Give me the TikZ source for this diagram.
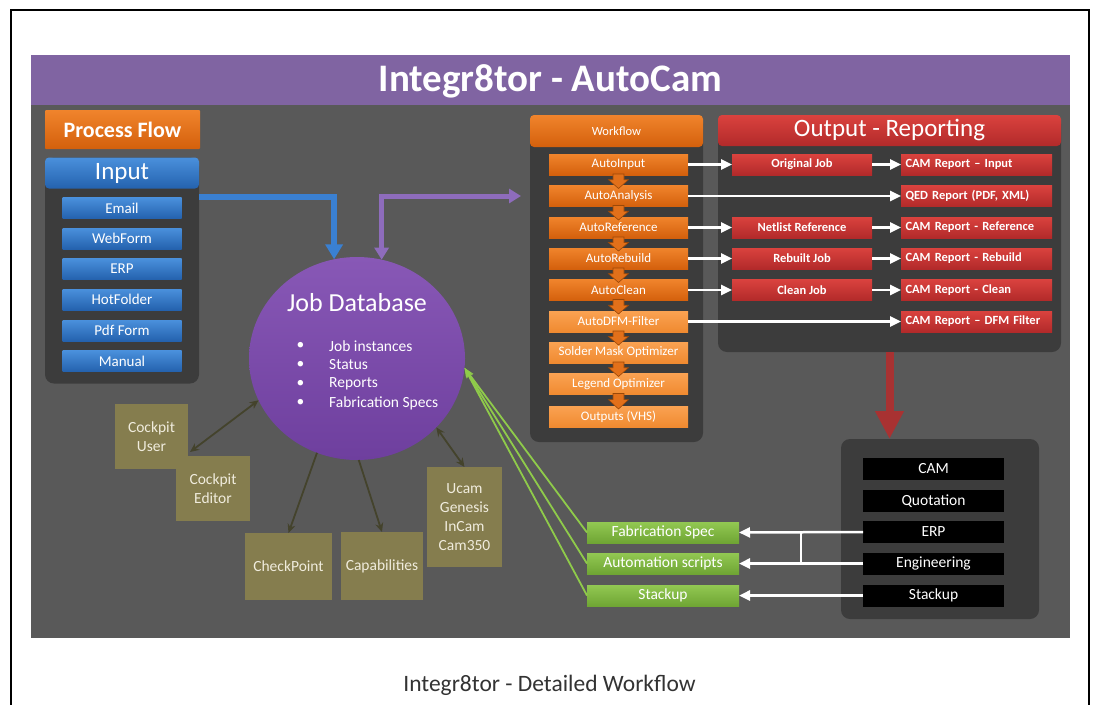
\documentclass[tikz,border=0pt]{standalone}
\usepackage{fontspec}
\setmainfont{Carlito}
\usetikzlibrary{arrows.meta,shapes.geometric,calc}
\newcommand{\fsz}[2]{\fontsize{#1}{#2}\selectfont}
\definecolor{bgc}{HTML}{595959}
\definecolor{panelc}{HTML}{3C3C3C}
\definecolor{purpband}{HTML}{8064A2}
\definecolor{bluetop}{HTML}{4A90DC}
\definecolor{bluebot}{HTML}{2462AE}
\definecolor{orgtop}{HTML}{F0842C}
\definecolor{orgbot}{HTML}{D4600C}
\definecolor{lorgtop}{HTML}{FAA252}
\definecolor{lorgbot}{HTML}{F08A30}
\definecolor{redtop}{HTML}{DA423E}
\definecolor{redbot}{HTML}{B22A2A}
\definecolor{grntop}{HTML}{92C852}
\definecolor{grnbot}{HTML}{6FA534}
\definecolor{olivec}{HTML}{857D4E}
\definecolor{olivetext}{HTML}{F0ECDD}
\definecolor{connc}{HTML}{44432C}
\definecolor{grnline}{HTML}{8FCB4A}
\definecolor{dbtop}{HTML}{8858B6}
\definecolor{dbbot}{HTML}{6E3F9E}
\definecolor{chevc}{HTML}{E2701A}
\definecolor{chevd}{HTML}{9A4808}
\definecolor{barrowc}{HTML}{3A80D2}
\definecolor{parrowc}{HTML}{8E6CBC}
\definecolor{rarrowc}{HTML}{A83232}
\tikzset{
  basebox/.style={inner sep=0pt, outer sep=0pt, text=white, align=center},
  panel/.style={basebox, fill=panelc, rounded corners=9pt},
  bluehead/.style={basebox, top color=bluetop, bottom color=bluebot, rounded corners=4pt, font=\fsz{25}{30}},
  blueitem/.style={basebox, top color=bluetop, bottom color=bluebot, minimum width=119pt, minimum height=21pt, font=\fsz{15}{18}},
  orghead/.style={basebox, top color=orgtop, bottom color=orgbot, rounded corners=4pt},
  stepbox/.style={basebox, top color=orgtop, bottom color=orgbot, minimum width=139pt, minimum height=21pt, font=\fsz{13}{16}},
  lstepbox/.style={stepbox, top color=lorgtop, bottom color=lorgbot},
  redhead/.style={basebox, top color=redtop, bottom color=redbot, rounded corners=4pt, font=\fsz{25}{30}},
  midred/.style={basebox, top color=redtop, bottom color=redbot, minimum width=140pt, minimum height=21pt, font=\bfseries\fsz{12.5}{15}},
  repred/.style={basebox, top color=redtop, bottom color=redbot, minimum width=151pt, minimum height=21pt, text width=142pt, align=left, font=\bfseries\fsz{12.5}{15}},
  blackbox/.style={basebox, fill=black, minimum width=141pt, minimum height=22pt, font=\fsz{15.5}{18}},
  greenbox/.style={basebox, top color=grntop, bottom color=grnbot, minimum width=152pt, minimum height=21pt, font=\fsz{15.5}{18}},
  olivebox/.style={basebox, fill=olivec, text=olivetext, font=\fsz{15.5}{19}},
  dbtext/.style={inner sep=0pt, text=white, font=\fsz{15.5}{18}, anchor=west},
  warrow/.style={draw=white, line width=2.5pt, -{Triangle[length=11pt,width=10pt]}},
  wline/.style={draw=white, line width=2.5pt},
  oconn/.style={draw=connc, line width=1.8pt},
  otip/.style={-{Stealth[length=9pt,width=8pt]}},
  otips/.style={{Stealth[length=9pt,width=8pt]}-{Stealth[length=9pt,width=8pt]}},
  gline/.style={draw=grnline, line width=1.8pt, -{Stealth[length=10pt,width=7pt]}},
  chev/.style={fill=chevc, draw=chevd, line width=0.6pt, line join=miter}
}
\begin{document}
\begin{tikzpicture}[x=1pt,y=-1pt]
\fill[white] (0,0) rectangle (1094,704);
\useasboundingbox (0,0) rectangle (1094,704);
% outer frame
\draw[black, line width=2pt] (11,720) -- (11,10) -- (1089,10) -- (1089,720);
% main background and title band
\fill[bgc] (31,55) rectangle (1070,638);
\fill[purpband] (31,55) rectangle (1070,105);
\node[basebox, font=\bfseries\fsz{39}{44}] (title) at (550.5,81) {Integr8tor - AutoCam};

% Process flow
\node[orghead, minimum width=155pt, minimum height=39pt, rounded corners=1pt, font=\bfseries\fsz{22}{26}] (pflow) at (122.5,129.5) {Process Flow};

% Input panel
\node[panel, minimum width=154pt, minimum height=226pt] (inpanel) at (122,270.5) {};
\node[bluehead, minimum width=154pt, minimum height=31pt] (inhead) at (122,173) {Input};
\node[blueitem] (email) at (122,208) {Email};
\node[blueitem] (webform) at (122,238.5) {WebForm};
\node[blueitem] (erpin) at (122,269) {ERP};
\node[blueitem] (hotf) at (122,299.5) {HotFolder};
\node[blueitem] (pdff) at (122,330.5) {Pdf Form};
\node[blueitem] (manual) at (122,361) {Manual};

% Workflow panel
\node[panel, minimum width=173pt, minimum height=327pt] (wfpanel) at (616.5,278.5) {};
\node[orghead, minimum width=173pt, minimum height=32pt, font=\fsz{12.5}{15}] (wfhead) at (616.5,131) {Workflow};
\node[stepbox] (s1) at (618.5,164.5) {AutoInput};
\node[stepbox] (s2) at (618.5,196) {AutoAnalysis};
\node[stepbox] (s3) at (618.5,227.5) {AutoReference};
\node[stepbox] (s4) at (618.5,258.5) {AutoRebuild};
\node[stepbox] (s5) at (618.5,290) {AutoClean};
\node[lstepbox] (s6) at (618.5,321.5) {AutoDFM-Filter};
\node[lstepbox] (s7) at (618.5,352.5) {Solder Mask Optimizer};
\node[lstepbox] (s8) at (618.5,384) {Legend Optimizer};
\node[lstepbox] (s9) at (618.5,416.5) {Outputs (VHS)};
\foreach \a/\b in {s1/s2,s2/s3,s3/s4,s4/s5,s5/s6,s6/s7,s7/s8,s8/s9}{
  \coordinate (m\a) at ($(\a.south)!0.45!(\b.north)$);
  \filldraw[chev] ($(\a.south)+(-5.5,-1)$) -- ($(\a.south)+(5.5,-1)$) -- ($(m\a)+(5.5,0)$) -- ($(m\a)+(10,0)$) -- ($(\b.north)+(0,3)$) -- ($(m\a)+(-10,0)$) -- ($(m\a)+(-5.5,0)$) -- cycle;
}

% Output - Reporting panel
\node[panel, minimum width=343pt, minimum height=237pt] (outpanel) at (889.5,233.5) {};
\node[redhead, minimum width=343pt, minimum height=31pt] (outhead) at (889.5,130.5) {Output - Reporting};
\node[midred] (m1) at (802,164.5) {Original Job};
\node[midred] (m3) at (802,227.5) {Netlist Reference};
\node[midred] (m4) at (802,258.5) {Rebuilt Job};
\node[midred] (m5) at (802,290) {Clean Job};
\node[repred] (r1) at (976.5,164.5) {CAM Report – Input};
\node[repred] (r2) at (976.5,196) {QED Report (PDF, XML)};
\node[repred] (r3) at (976.5,227.5) {CAM Report - Reference};
\node[repred] (r4) at (976.5,258.5) {CAM Report - Rebuild};
\node[repred] (r5) at (976.5,290) {CAM Report - Clean};
\node[repred] (r6) at (976.5,321.5) {CAM Report – DFM Filter};
\draw[warrow] (s1.east) -- (m1.west);
\draw[warrow] (m1.east) -- (r1.west);
\draw[warrow] (s2.east) -- (r2.west);
\draw[warrow] (s3.east) -- (m3.west);
\draw[warrow] (m3.east) -- (r3.west);
\draw[warrow] (s4.east) -- (m4.west);
\draw[warrow] (m4.east) -- (r4.west);
\draw[warrow] (s5.east) -- (m5.west);
\draw[warrow] (m5.east) -- (r5.west);
\draw[warrow] (s6.east) -- (r6.west);

% Bottom right panel
\node[panel, minimum width=198pt, minimum height=180pt] (brpanel) at (940,529) {};
\node[blackbox] (k1) at (933.5,469) {CAM};
\node[blackbox] (k2) at (933.5,501) {Quotation};
\node[blackbox] (k3) at (933.5,532) {ERP};
\node[blackbox] (k4) at (933.5,563.5) {Engineering};
\node[blackbox] (k5) at (933.5,595.5) {Stackup};
\draw[rarrowc, line width=8pt, -{Triangle[length=28pt,width=27pt]}] (outpanel.south) -- (outpanel.south |- brpanel.north);

% Green boxes
\node[greenbox] (g1) at (663,532.5) {Fabrication Spec};
\node[greenbox] (g2) at (663,563.5) {Automation scripts};
\node[greenbox] (g3) at (663,595.5) {Stackup};
\draw[warrow] (k3.west) -- (g1.east);
\draw[warrow] (k4.west) -- (g2.east);
\draw[warrow] (k5.west) -- (g3.east);
\draw[wline] ($(g1.east)!0.5!(k3.west)$) -- ($(g2.east)!0.5!(k4.west)$);

% Job database
\node[ellipse, inner sep=0pt, outer sep=0pt, minimum width=216pt, minimum height=203pt, top color=dbtop, bottom color=dbbot] (db) at (357,358.5) {};
\node[inner sep=0pt, text=white, font=\fsz{26}{30}] (dbtitle) at (357,303) {Job Database};
\node[dbtext] (b1) at (296.5,346) {•};
\node[dbtext] (b2) at (296.5,365) {•};
\node[dbtext] (b3) at (296.5,384) {•};
\node[dbtext] (b4) at (296.5,403) {•};
\node[dbtext] (t1) at (329,346) {Job instances};
\node[dbtext] (t2) at (329,365) {Status};
\node[dbtext] (t3) at (329,384) {Reports};
\node[dbtext] (t4) at (329,403) {Fabrication Specs};

% Input and workflow arrows
\coordinate (bstart) at (199,197);
\coordinate (pend) at (521,196);
\draw[barrowc, line width=6pt, -{Triangle[length=15pt,width=17pt]}] (bstart) -| (db.103);
\draw[parrowc, line width=5pt, {Triangle[length=12pt,width=14pt]}-{Triangle[length=12pt,width=14pt]}] (db.76) |- (pend);

% olive boxes
\node[olivebox, minimum width=73pt, minimum height=65pt] (cu) at (151.5,436.5) {Cockpit\\User};
\node[olivebox, minimum width=74pt, minimum height=65pt] (ce) at (213,488.5) {Cockpit\\Editor};
\node[olivebox, minimum width=87pt, minimum height=67pt] (cp) at (288.5,566.5) {CheckPoint};
\node[olivebox, minimum width=82pt, minimum height=68pt] (capab) at (382,566) {Capabilities};
\node[olivebox, minimum width=75pt, minimum height=100pt] (uc) at (464.5,517) {Ucam\\Genesis\\InCam\\Cam350};
\coordinate (cuend) at (190,452);
\draw[oconn, otips] (db.203) -- (cuend);
\draw[oconn, otip] (db.247) -- (cp.north);
\draw[oconn, otip] (db.271) -- (capab.north);
\draw[oconn, otips] (db.319) -- (uc.north);

% green links
\draw[gline] (g1.west) -- (db.355);
\draw[gline] (g2.west) -- (db.355);
\draw[gline] (g3.west) -- (db.355);

% caption
\node[inner sep=0pt, text=black!80, font=\fsz{23.5}{28}] (captxt) at (549.5,685) {Integr8tor - Detailed Workflow};
\end{tikzpicture}
\end{document}
